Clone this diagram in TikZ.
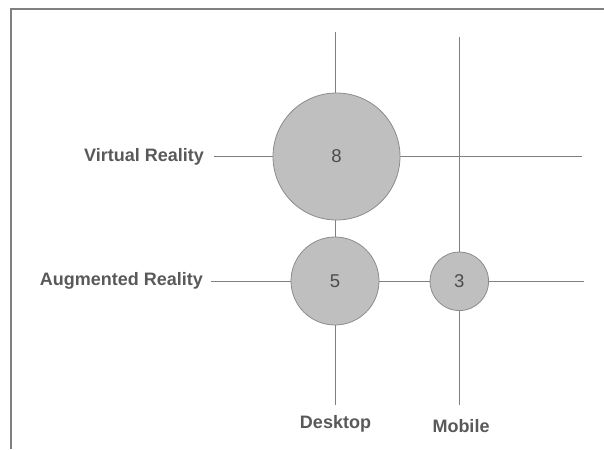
\documentclass[tikz,border=0pt]{standalone}
\usepackage{fontspec}
\setmainfont{Liberation Sans}
\begin{document}
\begin{tikzpicture}[x=1pt,y=-1pt,
  axisline/.style={draw=black!50, line width=1pt},
  bubble/.style={circle, draw=black!45, fill=black!25, line width=0.8pt, inner sep=0pt, text=black!70, font=\fontsize{18.5}{22}\selectfont},
  catlabel/.style={text=black!65, font=\fontsize{18}{21}\selectfont\bfseries, inner sep=0pt}]
\useasboundingbox (0,0) rectangle (604,449);
\draw[black!50, line width=1.4pt] (604,9) -- (11,9) -- (11,449);
% labels
\node[catlabel, anchor=east] (vr) at (204,157) {Virtual Reality};
\node[catlabel, anchor=east] (ar) at (203,281) {Augmented Reality};
\node[catlabel] (desk) at (335.5,424) {Desktop};
\node[catlabel] (mob) at (461,426) {Mobile};
% line ends
\coordinate (vrEnd) at (582,157);
\coordinate (arEnd) at (584,281);
\coordinate (deskTop) at (335,32);
\coordinate (mobTop) at (459,37);
\coordinate (deskBot) at (335,405);
\coordinate (mobBot) at (459,405);
\coordinate (vrStart) at (214,157);
\coordinate (arStart) at (211,281);
% grid lines
\draw[axisline] (vrStart) -- (vrEnd);
\draw[axisline] (arStart) -- (arEnd);
\draw[axisline] (deskTop) -- (deskBot);
\draw[axisline] (mobTop) -- (mobBot);
% bubbles
\node[bubble, minimum size=127pt] (b8) at (336.5,156.5) {8};
\node[bubble, minimum size=88pt] (b5) at (335,281) {5};
\node[bubble, minimum size=58.5pt] (b3) at (459.3,281.3) {3};
\end{tikzpicture}
\end{document}
